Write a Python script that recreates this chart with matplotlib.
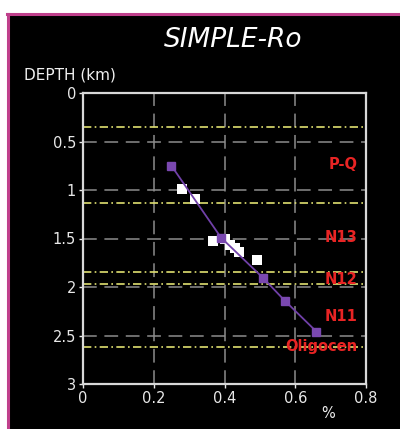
import matplotlib
matplotlib.use("Agg")
import matplotlib.pyplot as plt
from matplotlib.patches import Rectangle
from matplotlib.lines import Line2D

# Data
model_ro = [0.25, 0.39, 0.51, 0.57, 0.66]
model_depth = [0.75, 1.49, 1.91, 2.14, 2.46]
meas_ro = [0.281, 0.318, 0.368, 0.401, 0.416, 0.430, 0.442, 0.491]
meas_depth = [0.99, 1.09, 1.53, 1.50, 1.567, 1.60, 1.636, 1.72]
boundaries = [0.35, 1.13, 1.85, 1.97, 2.62]
unit_labels = ["P-Q", "N13", "N12", "N11", "Oligocen"]
unit_depths = [0.74, 1.49, 1.92, 2.30, 2.61]
xticks = [0, 0.2, 0.4, 0.6, 0.8]
yticks = [0, 0.5, 1, 1.5, 2, 2.5, 3]
ytick_labels = ["0", "0.5", "1", "1.5", "2", "2.5", "3"]

FONT = "DejaVu Sans"

fig = plt.figure(figsize=(4.0, 4.29), dpi=100)
fig.patch.set_facecolor("white")
W, H = 400, 429
# black panel with magenta top/left border
fig.patches.append(Rectangle((8/W, 0), 1, 1 - 14/H, transform=fig.transFigure,
                             facecolor="black", edgecolor="none", zorder=-5))
fig.add_artist(Line2D([7/W, 1], [1 - 13.5/H, 1 - 13.5/H], transform=fig.transFigure,
                      color="#c0408c", lw=2.2, zorder=-4))
fig.add_artist(Line2D([8/W, 8/W], [0, 1 - 13.5/H], transform=fig.transFigure,
                      color="#c0408c", lw=2.2, zorder=-4))

ax = fig.add_axes([83/W, 1 - 384/H, (366 - 83)/W, (384 - 93)/H])
ax.set_zorder(5)
ax.set_facecolor("black")
ax.set_xlim(0, 0.8)
ax.set_ylim(3, 0)

for v in [0.2, 0.4, 0.6]:
    ax.axvline(v, color="#8c8c8c", lw=1.1, dashes=(9, 5), zorder=1)
for v in [0.5, 1, 1.5, 2, 2.5]:
    ax.axhline(v, color="#8c8c8c", lw=1.1, dashes=(9, 5), zorder=1)
for b in boundaries:
    ax.axhline(b, color="#e0e070", lw=1.2, linestyle=(0, (5, 2, 1, 2)), zorder=2)

ax.plot(model_ro, model_depth, color="#7040a8", lw=1.3, marker="s", ms=6,
        markerfacecolor="#7a48b0", markeredgecolor="#7a48b0", zorder=4)
ax.scatter(meas_ro, meas_depth, marker="s", s=42, color="white", zorder=3, linewidths=0)

for lab, d in zip(unit_labels, unit_depths):
    ax.text(0.775, d, lab, color="#e82424", fontsize=10.5, fontweight="bold",
            ha="right", va="center", zorder=5, family=FONT)

for s in ax.spines.values():
    s.set_color("#d8d8d8")
    s.set_linewidth(1.6)
ax.set_xticks(xticks)
ax.set_xticklabels([f"{t:g}" for t in xticks])
ax.set_yticks(yticks)
ax.set_yticklabels(ytick_labels)
ax.tick_params(colors="#e8e8e8", labelsize=10.5, length=3, width=1, pad=2)
for lbl in ax.get_xticklabels() + ax.get_yticklabels():
    lbl.set_family(FONT)
    lbl.set_color("#e8e8e8")

fig.text(233/W, 1 - 40/H, "SIMPLE-Ro", color="white", fontsize=19, style="italic",
         ha="center", va="center", family=FONT)
fig.text(70/W, 1 - 75/H, "DEPTH (km)", color="#f0f0f0", fontsize=11,
         ha="center", va="center", family=FONT)
fig.text(328/W, 1 - 414/H, "%", color="#f0f0f0", fontsize=10.5,
         ha="center", va="center", family=FONT)

fig.savefig("out.png", dpi=100, facecolor=fig.get_facecolor())
